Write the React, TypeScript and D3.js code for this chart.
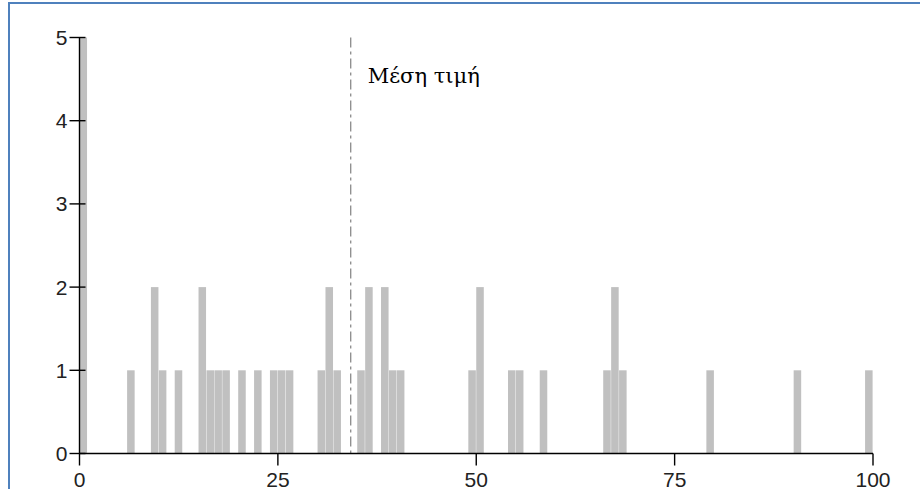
import React from "react";
import * as d3 from "d3";

// Histogram of scores (bins of width 1) with the mean marked
const binStarts = [0, 6, 9, 10, 12, 15, 16, 17, 18, 20, 22, 24, 25, 26, 30, 31, 32, 35, 36, 38, 39, 40, 49, 50, 54, 55, 58, 66, 67, 68, 79, 90, 99];
const binCounts = [5, 1, 2, 1, 1, 2, 1, 1, 1, 1, 1, 1, 1, 1, 1, 2, 1, 1, 2, 2, 1, 1, 1, 2, 1, 1, 1, 1, 2, 1, 1, 1, 1];
const xTicks = [0, 25, 50, 75, 100];
const yTicks = [0, 1, 2, 3, 4, 5];
const meanLabel = "Μέση τιμή";

const W = 920;
const H = 489;

export default function App() {
  const x = d3.scaleLinear().domain([0, 100]).range([79.5, 873]);
  const y = d3.scaleLinear().domain([0, 5]).range([453.5, 37.5]);

  const total = d3.sum(binCounts);
  const mean = d3.sum(binStarts, (s, i) => (s + 0.5) * binCounts[i]) / total;

  const unit = x(1) - x(0);
  const tickFont = "'Liberation Sans', Arial, sans-serif";

  return (
    <svg
      width={W}
      height={H}
      style={{ position: "absolute", left: 0, top: 0, background: "#fff" }}
    >
      {/* frame */}
      <path d={`M9,${H + 2} L9,3 L${W + 2},3`} fill="none" stroke="#4F81BD" strokeWidth={2} />

      {/* bars */}
      {binStarts.map((s, i) => (
        <rect
          key={s}
          x={x(s)}
          y={y(binCounts[i])}
          width={unit - 0.4}
          height={y(0) - y(binCounts[i])}
          fill="#C0C0C0"
        />
      ))}

      {/* mean line */}
      <line
        x1={x(mean)}
        x2={x(mean)}
        y1={y(5)}
        y2={y(0)}
        stroke="#808080"
        strokeWidth={1.2}
        strokeDasharray="10,4,3,4"
      />
      <text
        x={x(mean) + 17}
        y={83}
        fontFamily="'DejaVu Serif', 'Liberation Serif', serif"
        fontSize={21}
        fill="#000"
      >
        {meanLabel}
      </text>

      {/* y axis */}
      <line x1={x(0)} x2={x(0)} y1={y(5)} y2={y(0)} stroke="#000" strokeWidth={1.4} />
      {yTicks.map((t) => (
        <g key={t} transform={`translate(0,${y(t)})`}>
          <line x1={x(0) - 10} x2={x(0) + 6} stroke="#000" strokeWidth={1.4} />
          <text
            x={x(0) - 12}
            y={0}
            dy="0.36em"
            textAnchor="end"
            fontFamily={tickFont}
            fontSize={21}
            fill="#222"
          >
            {t}
          </text>
        </g>
      ))}

      {/* x axis */}
      <line x1={x(0)} x2={x(100)} y1={y(0)} y2={y(0)} stroke="#000" strokeWidth={1.4} />
      {xTicks.map((t) => (
        <g key={t} transform={`translate(${x(t)},0)`}>
          <line y1={y(0)} y2={y(0) + 12} stroke="#000" strokeWidth={1.4} />
          <text
            x={0}
            y={y(0) + 33}
            textAnchor="middle"
            fontFamily={tickFont}
            fontSize={21}
            fill="#222"
          >
            {t}
          </text>
        </g>
      ))}
    </svg>
  );
}
